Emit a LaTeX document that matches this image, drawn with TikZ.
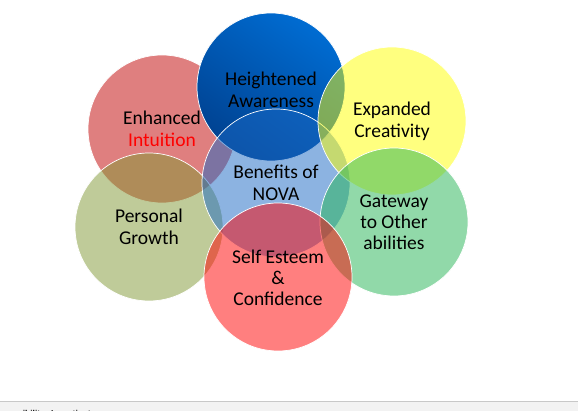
\documentclass[tikz,border=0pt]{standalone}
\usepackage{fontspec}
\setmainfont{Carlito}
\newfontfamily\barfont{Liberation Sans}
\definecolor{cPink}{RGB}{193,0,0}
\definecolor{cOlive}{RGB}{129,153,53}
\definecolor{cCenter}{RGB}{27,105,197}
\definecolor{cYellow}{RGB}{255,255,1}
\definecolor{cGate}{RGB}{37,181,85}
\definecolor{cSelf}{RGB}{255,1,1}
\definecolor{cBlueTop}{RGB}{0,108,210}
\definecolor{cBlueBot}{RGB}{0,66,145}
\definecolor{cBar}{RGB}{242,242,242}
\definecolor{cBarLine}{RGB}{200,200,200}
\tikzset{
  bubble/.style={circle, minimum size=148pt, inner sep=0pt, draw=white, line width=0.7pt},
  glass/.style={bubble, fill opacity=0.5},
  label/.style={align=center, font=\fontsize{19.5pt}{22pt}\selectfont, text=black}
}
\begin{document}
\begin{tikzpicture}[x=1pt,y=-1pt]
\useasboundingbox (0,0) rectangle (578,411);
\fill[white] (0,0) rectangle (578,411);
% status bar
\fill[cBar] (0,401) rectangle (578,411);
\draw[cBarLine, line width=0.8pt] (0,401) -- (578,401);
\node[anchor=base west, inner sep=0pt, font=\barfont\bfseries\fontsize{8.5pt}{10pt}\selectfont] (bar) at (-1,416) {ccessibility: Investigate};
% circles
\node[glass, fill=cPink] (intuition) at (162,129) {};
\node[glass, fill=cOlive] (growth) at (149,227) {};
\node[bubble, top color=cBlueTop, bottom color=cBlueBot, shading angle=-35] (aware) at (271,87) {};
\node[glass, fill=cCenter] (nova) at (276,183) {};
\node[glass, fill=cYellow] (creative) at (392,121) {};
\node[glass, fill=cGate] (gateway) at (394,222) {};
\node[glass, fill=cSelf] (esteem) at (278,277) {};
% texts
\node[label] (tIntuition) at (intuition.center) {Enhanced\\\textcolor{red}{Intuition}};
\node[label] (tGrowth) at (growth.center) {Personal\\Growth};
\node[label] (tAware) at ([yshift=-3pt]aware.center) {Heightened\\Awareness};
\node[label] (tNova) at (nova.center) {Benefits of\\NOVA};
\node[label] (tCreative) at (creative.center) {Expanded\\Creativity};
\node[label, font=\fontsize{19.5pt}{21pt}\selectfont] (tGateway) at (gateway.center) {Gateway\\to Other\\abilities};
\node[label, font=\fontsize{19.5pt}{21pt}\selectfont] (tEsteem) at ([yshift=-1pt]esteem.center) {Self Esteem\\\&\\Confidence};
\end{tikzpicture}
\end{document}
